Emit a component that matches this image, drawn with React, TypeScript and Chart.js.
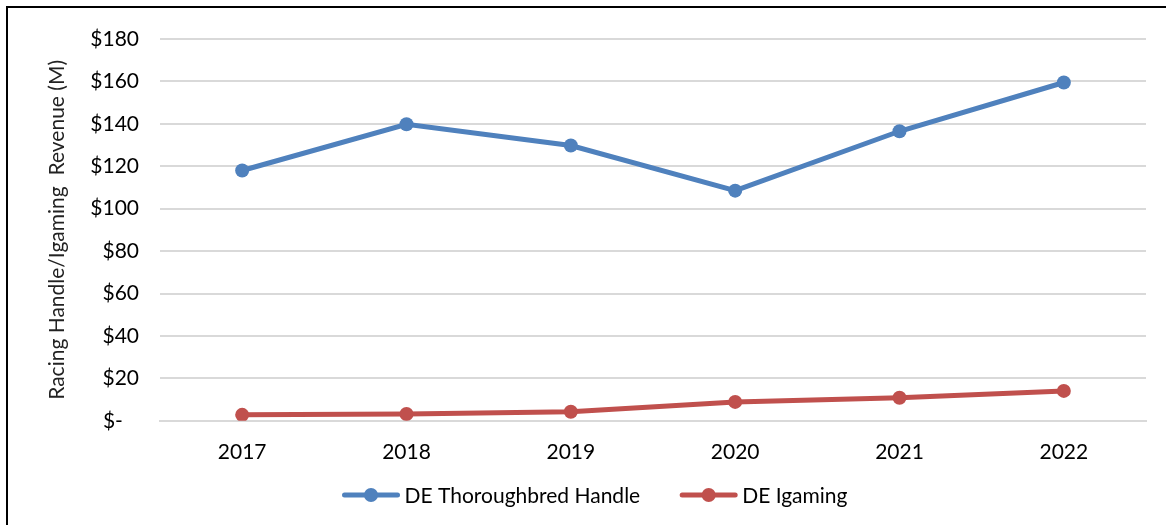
import React, { useEffect, useRef } from "react";
import { Chart, registerables } from "chart.js";

Chart.register(...registerables);

const categories = ["2017", "2018", "2019", "2020", "2021", "2022"];
const thoroughbredHandle = [118, 139.8, 129.8, 108.5, 136.5, 159.5];
const igaming = [2.8, 3.2, 4.3, 8.9, 10.9, 14.1];
const seriesNames = ["DE Thoroughbred Handle", "DE Igaming"];
const seriesColors = ["#4F81BD", "#C0504D"];
const yTitle = "Racing Handle/Igaming  Revenue (M)";

const FONT = "Lato, 'Liberation Sans', sans-serif";
const FSIZE = 21;

const excelLegend = {
  id: "excelLegend",
  afterDraw(chart: any) {
    const ctx = chart.ctx as CanvasRenderingContext2D;
    const y = 495;
    const lineW = 57;
    const gapText = 5;
    const gapItem = 40;
    ctx.save();
    ctx.font = `${FSIZE}px ${FONT}`;
    const items = chart.data.datasets.map((ds: any) => ({
      text: ds.label as string,
      color: ds.borderColor as string,
      w: ctx.measureText(ds.label).width,
    }));
    const total =
      items.reduce((a: number, it: any) => a + lineW + gapText + it.w, 0) + gapItem * (items.length - 1);
    let x = chart.width / 2 + 12 - total / 2;
    for (const it of items) {
      ctx.strokeStyle = it.color;
      ctx.lineWidth = 5;
      ctx.lineCap = "round";
      ctx.beginPath();
      ctx.moveTo(x + 2, y);
      ctx.lineTo(x + lineW - 2, y);
      ctx.stroke();
      ctx.fillStyle = it.color;
      ctx.beginPath();
      ctx.arc(x + lineW / 2, y, 7, 0, Math.PI * 2);
      ctx.fill();
      ctx.fillStyle = "#000";
      ctx.textBaseline = "middle";
      ctx.textAlign = "left";
      ctx.fillText(it.text, x + lineW + gapText, y + 1);
      x += lineW + gapText + it.w + gapItem;
    }
    ctx.restore();
  },
};

export default function App() {
  const ref = useRef<HTMLCanvasElement | null>(null);

  useEffect(() => {
    document.body.style.margin = "0";
    const chart = new Chart(ref.current!, {
      type: "line",
      data: {
        labels: categories,
        datasets: [
          {
            label: seriesNames[0],
            data: thoroughbredHandle,
            borderColor: seriesColors[0],
            backgroundColor: seriesColors[0],
            borderWidth: 5,
            pointRadius: 7,
            pointBorderWidth: 0,
            tension: 0,
          },
          {
            label: seriesNames[1],
            data: igaming,
            borderColor: seriesColors[1],
            backgroundColor: seriesColors[1],
            borderWidth: 5,
            pointRadius: 7,
            pointBorderWidth: 0,
            tension: 0,
          },
        ],
      },
      plugins: [excelLegend],
      options: {
        responsive: false,
        animation: false,
        layout: { padding: { top: 39, right: 20, left: 0, bottom: 41 } },
        plugins: {
          tooltip: { enabled: false },
          legend: { display: false },
        },
        scales: {
          x: {
            offset: true,
            grid: { display: false, drawTicks: false },
            border: { display: true, color: "#D9D9D9", width: 2 },
            ticks: { font: { family: FONT, size: FSIZE }, color: "#000", padding: 19 },
          },
          y: {
            min: 0,
            max: 180,
            afterFit: (s: any) => {
              s.width = 160;
            },
            grid: { color: "#D9D9D9", lineWidth: 2, drawTicks: false },
            border: { display: false },
            ticks: {
              stepSize: 20,
              padding: 21,
              font: { family: FONT, size: FSIZE },
              color: "#000",
              callback: (v: any) => (Number(v) === 0 ? "$-   " : "$" + v),
            },
            title: {
              display: true,
              text: yTitle,
              font: { family: FONT, size: FSIZE },
              color: "#222",
              padding: { top: 45, bottom: 0 },
            },
          },
        },
      } as any,
    });
    return () => chart.destroy();
  }, []);

  return (
    <div style={{ position: "relative", width: 1166, height: 525, background: "#fff", overflow: "hidden" }}>
      <canvas ref={ref} width={1166} height={525} style={{ position: "absolute", left: 0, top: 0 }} />
      <div
        style={{
          position: "absolute",
          left: 6,
          top: 6,
          width: 1200,
          height: 600,
          borderTop: "2px solid #000",
          borderLeft: "2px solid #000",
          pointerEvents: "none",
        }}
      />
    </div>
  );
}
